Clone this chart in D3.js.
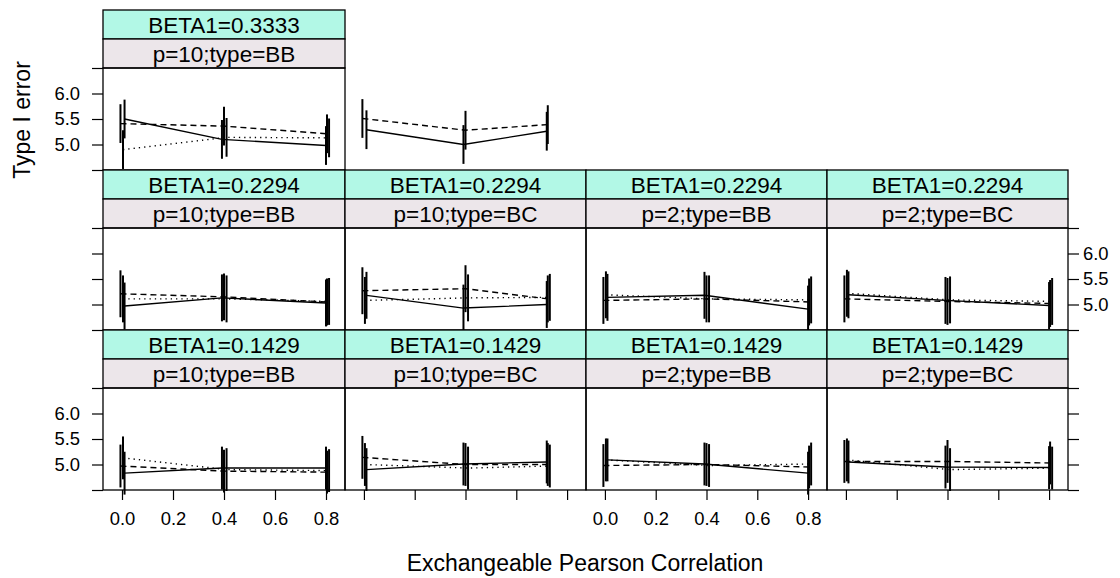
<!DOCTYPE html>
<html>
<head>
<meta charset="utf-8">
<script src="https://cdn.jsdelivr.net/npm/d3@7"></script>
<style>
body { margin: 0; background: #fff; }
svg { display: block; font-family: "Liberation Sans", Arial, sans-serif; }
</style>
</head>
<body>
<svg id="chart" width="1120" height="578"></svg>
<script>
var betaLevels = ["0.3333", "0.2294", "0.1429"];
var groups = ["p=10;type=BB", "p=10;type=BC", "p=2;type=BB", "p=2;type=BC"];
// correlation levels used by each group (BC with p=10 stops lower)
var corrLevels = [[0, 0.4, 0.8], [0, 0.4, 0.72], [0, 0.4, 0.8], [0, 0.4, 0.8]];
var yTicks = [4.5, 5.0, 5.5, 6.0, 6.5];
var yLabelled = [5.0, 5.5, 6.0];
var xTicks = [0, 0.2, 0.4, 0.6, 0.8];

// panel order: [row, col]
var panelPos = [[0,0],[0,1],[1,0],[1,1],[1,2],[1,3],[2,0],[2,1],[2,2],[2,3]];
var panelFramed = [true, false, true, true, true, true, true, true, true, true];

// type I error (%) per panel, three correlation levels each
var solidVals = [
  [5.50, 5.10, 4.98], [5.29, 5.00, 5.26],
  [4.97, 5.13, 5.03], [5.18, 4.93, 5.00], [5.14, 5.18, 4.91], [5.19, 5.08, 4.98],
  [4.83, 4.93, 4.93], [4.90, 5.01, 5.05], [5.09, 5.01, 4.83], [5.05, 4.95, 4.94]
];
var dashedVals = [
  [5.41, 5.36, 5.21], [5.51, 5.28, 5.39],
  [5.21, 5.15, 5.05], [5.27, 5.31, 5.11], [5.08, 5.11, 5.05], [5.11, 5.06, 5.02],
  [4.97, 4.87, 4.85], [5.14, 5.00, 5.00], [4.98, 5.00, 4.95], [5.06, 5.06, 5.03]
];
var dottedVals = [
  [4.90, 5.14, 5.13], null,
  [5.11, 5.11, 5.06], [5.08, 5.13, 5.14], [5.19, 5.11, 5.09], [5.22, 5.09, 5.06],
  [5.13, 4.90, 4.88], [5.00, 4.93, 4.97], [5.09, 4.98, 5.01], [5.09, 4.90, 4.93]
];
// small x jitter per series so the error bars don't sit on each other
var solidJit = [0.010, -0.008, 0.000];
var dashedJit = [-0.006, 0.000, 0.004];
var dottedJit = [0.004, 0.010, 0.012];
// half width of the error bars, by row
var ciHalf = [0.38, 0.46, 0.42];

var series = [
  {vals: solidVals, jit: solidJit, dash: null},
  {vals: dashedVals, jit: dashedJit, dash: "6,4"},
  {vals: dottedVals, jit: dottedJit, dash: "1.3,4"}
];

var colX = [103, 345, 586, 827, 1068];
var panelTop = [68, 228, 388];
var panelH = 102, stripH = 29;
var stripCol1 = "#b2f8e6", stripCol2 = "#ece6ea";

var svg = d3.select("#chart");

var y = d3.scaleLinear().domain([4.5, 6.5]).range([panelH, 0]);

function xScale(c) {
  return d3.scaleLinear().domain([-0.0745, 0.8745]).range([0, colX[c + 1] - colX[c]]);
}

panelPos.forEach(function(pos, i) {
  var r = pos[0], c = pos[1];
  var w = colX[c + 1] - colX[c];
  var x = xScale(c);
  var g = svg.append("g").attr("transform", "translate(" + colX[c] + "," + panelTop[r] + ")");

  if (panelFramed[i]) {
    var strips = [["BETA1=" + betaLevels[r], stripCol1], [groups[c], stripCol2]];
    strips.forEach(function(s, k) {
      var sy = -2 * stripH + k * stripH;
      g.append("rect").attr("x", 0).attr("y", sy).attr("width", w).attr("height", stripH)
        .attr("fill", s[1]).attr("stroke", "#000").attr("stroke-width", 1.3);
      g.append("text").attr("x", w / 2).attr("y", sy + stripH / 2 + 8)
        .attr("text-anchor", "middle").attr("font-size", 22.5).attr("fill", "#000").text(s[0]);
    });
    g.append("rect").attr("width", w).attr("height", panelH)
      .attr("fill", "none").attr("stroke", "#000").attr("stroke-width", 1.3);
  }

  var levels = corrLevels[c];
  series.forEach(function(s) {
    var v = s.vals[i];
    if (!v) return;
    var pts = v.map(function(d, j) { return {x: levels[j] + s.jit[j], y: d}; });
    var line = d3.line().x(function(d) { return x(d.x); }).y(function(d) { return y(d.y); });
    g.append("path").attr("d", line(pts)).attr("fill", "none").attr("stroke", "#000")
      .attr("stroke-width", 1.4).attr("stroke-dasharray", s.dash);
    g.selectAll(null).data(pts).enter().append("line")
      .attr("x1", function(d) { return x(d.x); }).attr("x2", function(d) { return x(d.x); })
      .attr("y1", function(d) { return y(d.y - ciHalf[r]); })
      .attr("y2", function(d) { return y(d.y + ciHalf[r]); })
      .attr("stroke", "#000").attr("stroke-width", 2);
  });
});

function styleAxis(a) {
  a.select(".domain").remove();
  a.attr("font-family", null).attr("font-size", 18.4);
  a.selectAll("line").attr("stroke", "#000").attr("stroke-width", 1.2);
  a.selectAll("text").attr("fill", "#000");
}

// left axes
[0, 1, 2].forEach(function(r) {
  var ax = d3.axisLeft(y).tickValues(yTicks).tickSize(11).tickPadding(12)
    .tickFormat(function(d) { return (r !== 1 && yLabelled.indexOf(d) >= 0) ? d3.format(".1f")(d) : ""; });
  svg.append("g").attr("transform", "translate(" + colX[0] + "," + panelTop[r] + ")").call(ax).call(styleAxis);
});
// right axes
[1, 2].forEach(function(r) {
  var ax = d3.axisRight(y).tickValues(yTicks).tickSize(11).tickPadding(4)
    .tickFormat(function(d) { return (r === 1 && yLabelled.indexOf(d) >= 0) ? d3.format(".1f")(d) : ""; });
  svg.append("g").attr("transform", "translate(" + colX[4] + "," + panelTop[r] + ")").call(ax).call(styleAxis);
});
// bottom axes
[0, 1, 2, 3].forEach(function(c) {
  var ax = d3.axisBottom(xScale(c)).tickValues(xTicks).tickSize(10).tickPadding(12)
    .tickFormat(function(d) { return (c % 2 === 0) ? d3.format(".1f")(d) : ""; });
  svg.append("g").attr("transform", "translate(" + colX[c] + "," + (panelTop[2] + panelH) + ")").call(ax).call(styleAxis);
});

svg.append("text").attr("x", 585).attr("y", 571).attr("text-anchor", "middle")
  .attr("font-size", 23).attr("fill", "#000").text("Exchangeable Pearson Correlation");
svg.append("text").attr("transform", "translate(30,120) rotate(-90)").attr("text-anchor", "middle")
  .attr("font-size", 23).attr("fill", "#000").text("Type I error");
</script>
</body>
</html>
